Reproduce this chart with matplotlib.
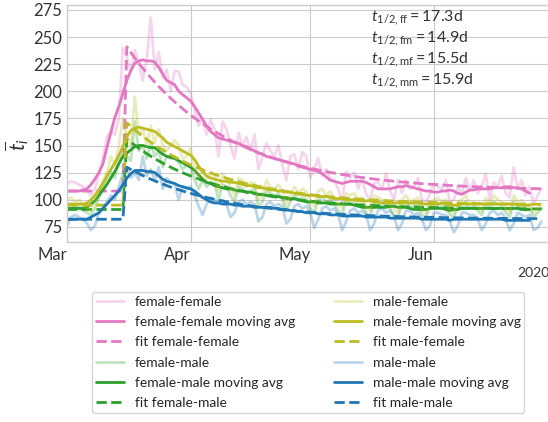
import numpy as np
import pandas as pd
import matplotlib
matplotlib.use("Agg")
import matplotlib.pyplot as plt
import matplotlib.dates as mdates

plt.style.use("seaborn-v0_8-whitegrid")
plt.rcParams["font.family"] = ["Lato", "DejaVu Sans"]
plt.rcParams["mathtext.fontset"] = "custom"
plt.rcParams["mathtext.rm"] = "Lato"
plt.rcParams["mathtext.it"] = "Lato:italic"

start = "2020-03-01"

# raw daily mean interaction time per pair type
raw_ff = [115, 117, 116, 114, 112, 108, 104, 110, 124, 138, 158, 163, 160, 175, 240, 232, 218, 238, 226, 210,
          230, 268, 220, 236, 212, 220, 200, 219, 218, 206, 204, 198, 182, 168, 176, 160, 174, 165, 140, 172,
          165, 150, 138, 162, 150, 158, 145, 160, 128, 140, 152, 145, 140, 150, 132, 118, 140, 142, 128, 144,
          140, 120, 128, 138, 122, 128, 120, 118, 110, 98, 126, 120, 125, 110, 120, 105, 100, 115, 116, 110,
          124, 108, 100, 118, 106, 118, 110, 112, 120, 100, 98, 105, 115, 112, 110, 118, 98, 100, 112, 105,
          120, 108, 118, 106, 112, 124, 100, 116, 112, 122, 106, 102, 130, 110, 118, 104, 112, 96, 104, 110]
raw_fm = [94, 96, 92, 94, 90, 88, 86, 92, 102, 110, 118, 126, 120, 138, 148, 140, 136, 172, 145, 150,
          138, 152, 140, 145, 130, 140, 138, 140, 134, 128, 132, 130, 118, 110, 118, 112, 116, 114, 100, 114,
          112, 104, 98, 112, 110, 106, 108, 110, 94, 98, 108, 106, 104, 106, 100, 90, 98, 104, 100, 102,
          100, 92, 88, 100, 102, 98, 100, 96, 90, 86, 100, 98, 98, 94, 96, 88, 84, 98, 96, 94,
          96, 92, 86, 84, 96, 98, 94, 94, 96, 86, 84, 94, 96, 96, 94, 94, 86, 84, 94, 96,
          98, 92, 94, 90, 86, 96, 92, 98, 96, 94, 88, 84, 98, 94, 96, 90, 92, 84, 88, 92]
raw_mf = [100, 102, 98, 100, 96, 92, 90, 98, 110, 118, 125, 140, 132, 150, 175, 158, 150, 195, 160, 165,
          150, 168, 152, 165, 150, 145, 150, 155, 150, 138, 140, 148, 128, 120, 128, 118, 125, 122, 108, 124,
          118, 112, 104, 120, 118, 112, 116, 115, 100, 104, 118, 112, 110, 114, 108, 96, 104, 112, 106, 110,
          108, 100, 94, 108, 110, 104, 108, 102, 96, 92, 106, 104, 106, 100, 102, 94, 90, 104, 102, 100,
          98, 96, 92, 88, 100, 104, 98, 100, 102, 90, 88, 98, 100, 102, 98, 100, 90, 88, 98, 100,
          104, 96, 98, 94, 90, 102, 96, 104, 100, 98, 92, 88, 104, 98, 100, 94, 96, 88, 92, 96]
raw_mm = [76, 84, 86, 84, 82, 78, 72, 76, 88, 92, 98, 104, 100, 112, 124, 130, 120, 125, 118, 140,
          122, 128, 118, 130, 110, 120, 116, 114, 100, 112, 110, 112, 104, 94, 86, 96, 102, 100, 98, 100,
          96, 84, 88, 98, 100, 96, 98, 96, 80, 84, 96, 98, 94, 96, 94, 78, 82, 94, 96, 92,
          94, 88, 74, 82, 92, 94, 90, 92, 86, 72, 80, 90, 92, 88, 90, 86, 72, 78, 90, 92,
          88, 90, 84, 72, 78, 90, 90, 86, 88, 82, 72, 76, 88, 88, 86, 86, 80, 70, 76, 88,
          88, 86, 86, 82, 72, 78, 88, 90, 86, 88, 82, 72, 78, 88, 86, 84, 86, 72, 74, 80]

# 7-day moving averages
avg_ff = [108, 108, 108, 108, 109, 110, 114, 119, 125, 133, 148, 162, 176, 186, 198, 210, 219, 226, 228, 229,
          228, 228, 227, 222, 216, 210, 208, 206, 200, 197, 194, 191, 186, 180, 174, 168, 163, 160, 157, 156,
          155, 154, 153, 152, 150, 149, 147, 145, 143, 142, 140, 139, 138, 137, 136, 135, 134, 133, 131, 130,
          129, 128, 127, 126, 124, 121, 118, 117, 116, 115, 116, 117, 117, 117, 117, 116, 114, 112, 110, 110,
          110, 110, 111, 112, 112, 113, 112, 111, 110, 109, 108, 108, 107, 107, 108, 108, 109, 108, 106, 105,
          107, 109, 109, 110, 110, 110, 110, 111, 111, 111, 112, 112, 111, 111, 110, 108, 106]
avg_fm = [92, 92, 92, 92, 92, 93, 96, 99, 104, 109, 114, 120, 126, 133, 140, 143, 146, 149, 150, 150,
          149, 148, 148, 145, 142, 140, 139, 138, 136, 134, 132, 130, 127, 123, 119, 116, 115, 113, 112, 111,
          110, 110, 109, 108, 108, 107, 107, 106, 105, 105, 104, 104, 103, 103, 102, 102, 101, 101, 100, 99,
          98, 98, 98, 97, 97, 97, 96, 96, 96, 96, 96, 96, 95, 94, 93, 93, 93, 93, 93, 93,
          93, 94, 94, 93, 93, 93, 92, 91, 91, 91, 91, 92, 92, 92, 92, 91, 90, 91, 91, 92,
          92, 92, 92, 92, 92, 92, 92, 92, 92, 92, 92, 92, 92, 92, 91, 91, 91]
avg_mf = [96, 96, 96, 96, 96, 97, 100, 104, 109, 115, 122, 128, 134, 141, 149, 158, 164, 166, 167, 166,
          165, 164, 163, 160, 157, 153, 151, 149, 147, 145, 143, 141, 137, 131, 126, 122, 120, 119, 118, 117,
          117, 116, 116, 115, 114, 113, 113, 112, 111, 111, 110, 109, 109, 108, 108, 107, 107, 106, 105, 105,
          104, 104, 104, 103, 103, 103, 102, 101, 101, 101, 100, 100, 100, 99, 99, 99, 99, 98, 98, 97,
          97, 97, 97, 97, 97, 97, 97, 97, 97, 96, 96, 96, 96, 96, 97, 96, 95, 95, 95, 96,
          96, 96, 96, 96, 96, 96, 96, 96, 96, 96, 96, 96, 96, 95, 95, 95, 95]
avg_mm = [82, 82, 82, 82, 82, 82, 84, 86, 88, 92, 96, 100, 104, 108, 114, 120, 124, 127, 127, 127,
          126, 126, 125, 122, 119, 117, 116, 115, 113, 112, 111, 110, 108, 105, 102, 100, 98, 97, 97, 96,
          96, 96, 95, 95, 94, 94, 94, 93, 93, 93, 93, 93, 92, 92, 91, 91, 90, 90, 89, 89,
          88, 88, 88, 87, 87, 87, 86, 86, 86, 85, 85, 85, 85, 85, 85, 84, 84, 84, 84, 84,
          84, 83, 83, 83, 83, 83, 83, 83, 83, 82, 82, 82, 82, 82, 82, 82, 81, 82, 82, 82,
          82, 82, 82, 82, 82, 82, 82, 82, 82, 82, 81, 81, 81, 81, 81, 81, 81]

# fit parameters: level before the jump, peak after it, half-life in days
labels = ["female-female", "female-male", "male-female", "male-male"]
keys = ["ff", "fm", "mf", "mm"]
colors = ["#e377c2", "#2ca02c", "#bcbd22", "#1f77b4"]
fit_base = [108, 91, 95, 82]
fit_peak = [241, 156, 171, 130]
half_life = [17.3, 14.9, 15.5, 15.9]
jump_day = 15

raws = [raw_ff, raw_fm, raw_mf, raw_mm]
avgs = [avg_ff, avg_fm, avg_mf, avg_mm]

fig = plt.figure(figsize=(5.48, 4.22), dpi=100)
ax = fig.add_axes([0.1223, 0.4265, 0.8805, 0.5617])

for i in range(4):
    d_raw = pd.date_range(start, periods=len(raws[i]))
    d_avg = pd.date_range(start, periods=len(avgs[i]))
    t = np.arange(len(raws[i]))
    fit = np.where(t < jump_day, fit_base[i],
                   fit_base[i] + (fit_peak[i] - fit_base[i]) * 0.5 ** ((t - jump_day) / half_life[i]))
    ax.plot(d_raw, raws[i], color=colors[i], lw=2, alpha=0.3, label=labels[i])
    ax.plot(d_avg, avgs[i], color=colors[i], lw=2, label=labels[i] + " moving avg")
    ax.plot(d_raw, fit, color=colors[i], lw=2, ls="--", label="fit " + labels[i])

txt = "\n".join(r"$t_{1/2,\mathrm{%s}} = %.1f$d" % (k, h) for k, h in zip(keys, half_life))
ax.text(0.63, 0.985, txt, transform=ax.transAxes, va="top", ha="left", fontsize=11.5,
        color="#333333", linespacing=1.2)

ax.set_xlim(pd.Timestamp("2020-03-01"), pd.Timestamp("2020-06-30"))
ax.set_ylim(61, 279.6)
ax.set_yticks([75, 100, 125, 150, 175, 200, 225, 250, 275])
loc = mdates.MonthLocator()
ax.xaxis.set_major_locator(loc)
ax.xaxis.set_major_formatter(mdates.ConciseDateFormatter(loc))
for lab in ax.get_xticklabels():
    lab.set_ha("right")
ax.tick_params(labelsize=12, colors="#333333")
ax.xaxis.get_offset_text().set_fontsize(10)
ax.set_ylabel(r"$\overline{t}_i$", fontsize=15, color="#333333")
ax.yaxis.set_label_coords(-0.075, 0.41)

ax.legend(loc="upper center", bbox_to_anchor=(0.5, -0.182), ncol=2, fontsize=10, frameon=True,
          columnspacing=2.8, labelspacing=0.6, borderpad=0.25)

fig.savefig("out.png", dpi=100)
